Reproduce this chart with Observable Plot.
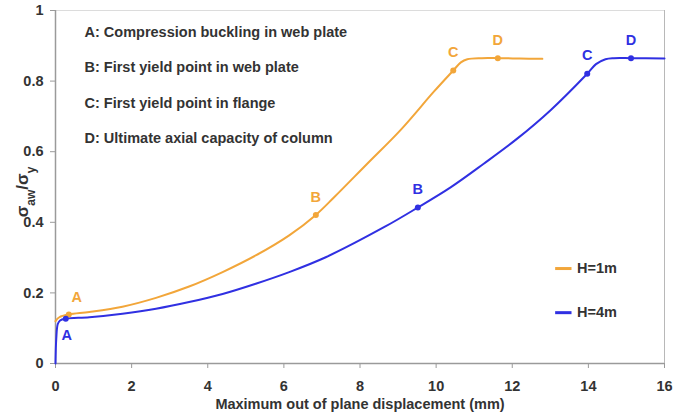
<!DOCTYPE html>
<html>
<head>
<meta charset="utf-8">
<script src="https://cdn.jsdelivr.net/npm/d3@7"></script>
<script src="https://cdn.jsdelivr.net/npm/@observablehq/plot@0.6"></script>
<style>
  html, body { margin: 0; padding: 0; background: #fff; }
  #chart { width: 676px; height: 414px; }
</style>
</head>
<body>
<div id="chart"></div>
<script>
// Load–displacement response of the column for two heights
const seriesNames = ["H=1m", "H=4m"];
const seriesColors = ["#f2a63a", "#3030e2"];

// H = 1 m
const h1Disp = [0, 0.1, 0.35, 0.89, 1.76, 2.64, 3.51, 4.39, 5.26, 6.14, 6.84, 7.32, 8.19, 9.07, 9.94, 10.45, 10.65, 10.82, 11.2, 11.62, 12.2, 12.79];
const h1Stress = [0.12, 0.131, 0.139, 0.146, 0.161, 0.186, 0.218, 0.259, 0.306, 0.363, 0.421, 0.471, 0.566, 0.662, 0.77, 0.83, 0.853, 0.862, 0.865, 0.865, 0.864, 0.863];

// H = 4 m
const h4Disp = [0, 0.02, 0.06, 0.12, 0.27, 0.89, 1.76, 2.64, 3.51, 4.39, 5.26, 6.14, 7.1, 8.63, 9.52, 10.38, 11.25, 12.13, 13.0, 13.97, 14.2, 14.45, 14.67, 15.12, 16];
const h4Stress = [0, 0.07, 0.112, 0.122, 0.127, 0.131, 0.141, 0.155, 0.174, 0.197, 0.226, 0.259, 0.301, 0.386, 0.442, 0.499, 0.566, 0.637, 0.717, 0.821, 0.848, 0.862, 0.865, 0.865, 0.864];

// Key events along each curve
const eventLabels = ["A", "B", "C", "D"];
const h1EventDisp = [0.35, 6.84, 10.45, 11.62];
const h1EventStress = [0.139, 0.421, 0.83, 0.865];
const h4EventDisp = [0.27, 9.52, 13.97, 15.12];
const h4EventStress = [0.127, 0.442, 0.821, 0.865];

const eventNotes = [
  "A: Compression buckling in web plate",
  "B: First yield point in web plate",
  "C: First yield point in flange",
  "D: Ultimate axial capacity of column"
];

const xTicks = [0, 2, 4, 6, 8, 10, 12, 14, 16];
const yTicks = [0, 0.2, 0.4, 0.6, 0.8, 1];

const curve = [
  ...h1Disp.map((d, i) => ({series: seriesNames[0], disp: d, stress: h1Stress[i]})),
  ...h4Disp.map((d, i) => ({series: seriesNames[1], disp: d, stress: h4Stress[i]}))
];
const events = [
  ...eventLabels.map((l, i) => ({series: seriesNames[0], label: l, disp: h1EventDisp[i], stress: h1EventStress[i]})),
  ...eventLabels.map((l, i) => ({series: seriesNames[1], label: l, disp: h4EventDisp[i], stress: h4EventStress[i]}))
];
const legendRows = seriesNames.map((name, i) => ({name, row: i}));

const colorOf = name => seriesColors[seriesNames.indexOf(name)];
const font = "'Liberation Sans', Arial, sans-serif";
const fs = 14.5;

// legend placement inside the frame (data units)
const legX0 = 13.14, legX1 = 13.57, legY = [0.269, 0.144];

const chart = Plot.plot({
  width: 676,
  height: 414,
  marginLeft: 55,
  marginRight: 12,
  marginTop: 10,
  marginBottom: 51,
  style: {fontFamily: font, fontSize: fs + "px", fontWeight: "bold", color: "#333", background: "#fff"},
  x: {domain: [0, 16]},
  y: {domain: [0, 1]},
  marks: [
    // frame
    Plot.ruleY([1], {stroke: "#dcdcdc", strokeWidth: 1}),
    Plot.ruleX([16], {stroke: "#b8b8b8", strokeWidth: 1}),
    Plot.ruleX([0], {stroke: "#9a9a9a", strokeWidth: 1.5}),
    Plot.ruleY([0], {stroke: "#9a9a9a", strokeWidth: 1.5}),
    Plot.axisX({
      ticks: xTicks, tickSize: 5, tickPadding: 12, stroke: "#9a9a9a",
      tickFormat: d => String(d), fill: "#333", fontSize: fs,
      label: "Maximum out of plane displacement (mm)", labelAnchor: "center", labelArrow: "none", labelOffset: 45
    }),
    Plot.axisY({
      ticks: yTicks, tickSize: 5, tickPadding: 7, stroke: "#9a9a9a",
      tickFormat: d => String(+d.toFixed(1)), fill: "#333", fontSize: fs, label: null
    }),
    // curves
    Plot.line(curve, {x: "disp", y: "stress", z: "series", stroke: d => colorOf(d.series), strokeWidth: 2, curve: "catmull-rom"}),
    Plot.dot(events, {x: "disp", y: "stress", r: 3, fill: d => colorOf(d.series), stroke: "none"}),
    // event letters
    Plot.text(events.filter(d => d.label !== "A"), {x: "disp", y: "stress", text: "label", dy: -18, fill: d => colorOf(d.series), fontSize: fs}),
    Plot.text(events.filter(d => d.label === "A" && d.series === seriesNames[0]), {x: "disp", y: "stress", text: "label", dx: 8, dy: -17, fill: d => colorOf(d.series), fontSize: fs}),
    Plot.text(events.filter(d => d.label === "A" && d.series === seriesNames[1]), {x: "disp", y: "stress", text: "label", dx: 1, dy: 17, fill: d => colorOf(d.series), fontSize: fs}),
    // notes
    Plot.text([eventNotes.join("\n")], {frameAnchor: "top-left", lineAnchor: "top", dx: 29, dy: 1, lineHeight: 2.45, textAnchor: "start", fill: "#333", fontSize: fs}),
    // legend
    Plot.ruleY(legendRows, {x1: legX0, x2: legX1, y: d => legY[d.row], stroke: d => colorOf(d.name), strokeWidth: 3}),
    Plot.text(legendRows, {x: legX1, y: d => legY[d.row], text: "name", dx: 5, textAnchor: "start", fill: "#333", fontSize: fs})
  ]
});

// y-axis title with subscripts
const svg = d3.select(chart);
const ylab = svg.append("text")
  .attr("transform", "translate(28,192) rotate(-90)")
  .attr("text-anchor", "middle")
  .attr("fill", "#333")
  .attr("font-family", font)
  .attr("font-weight", "bold")
  .attr("font-size", 17);
ylab.append("tspan").text("σ");
ylab.append("tspan").attr("baseline-shift", "sub").attr("font-size", 12).text("aw");
ylab.append("tspan").text("/σ");
ylab.append("tspan").attr("baseline-shift", "sub").attr("font-size", 12).text("y");

document.getElementById("chart").appendChild(chart);
</script>
</body>
</html>
